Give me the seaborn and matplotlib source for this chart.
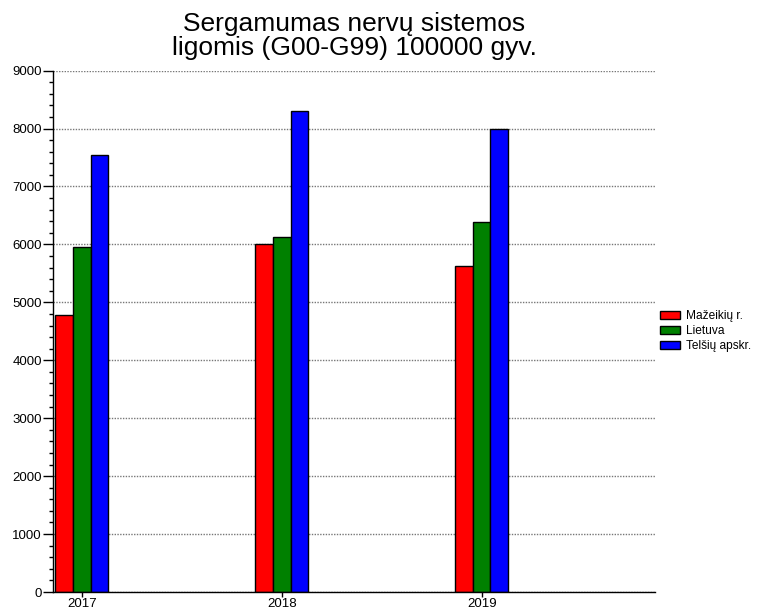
import numpy as np
import pandas as pd
import seaborn as sns
import matplotlib
matplotlib.use("Agg")
import matplotlib.pyplot as plt
from matplotlib.ticker import MultipleLocator

# values
years = ["2017", "2018", "2019"]
regions = ["Mažeikių r.", "Lietuva", "Telšių apskr."]
mazeikiai = [4780, 6000, 5630]
lietuva = [5960, 6130, 6380]
telsiai = [7550, 8310, 8000]
colors = ["#ff0000", "#008000", "#0000ff"]

df = pd.DataFrame({
    "year": years * 3,
    "region": [r for r in regions for _ in years],
    "value": mazeikiai + lietuva + telsiai,
})

sns.set_theme(style="white")
plt.rcParams["font.family"] = ["Liberation Sans", "DejaVu Sans"]
plt.rcParams["text.color"] = "black"
plt.rcParams["xtick.color"] = "black"
plt.rcParams["ytick.color"] = "black"

fig = plt.figure(figsize=(7.63, 6.14), dpi=100)
ax = fig.add_axes([0.0695, 0.0358, 0.789, 0.8492])

sns.barplot(data=df, x="year", y="value", hue="region", hue_order=regions,
            palette=colors, width=0.265, edgecolor="black", linewidth=1,
            saturation=1, gap=0, ax=ax)

ax.set_xlim(-0.1435, 2.867)
ax.set_ylim(0, 9000)
ax.yaxis.set_major_locator(MultipleLocator(1000))
ax.yaxis.set_minor_locator(MultipleLocator(200))
ax.yaxis.grid(True, which="major", linestyle=(0, (1, 1)), color="#777777", linewidth=1)
ax.set_axisbelow(True)

ax.tick_params(axis="y", which="major", direction="out", length=7, width=1,
               color="black", labelcolor="black", labelsize=9.5, pad=1, left=True)
ax.tick_params(axis="y", which="minor", direction="out", length=3, width=1,
               color="black", left=True)
ax.tick_params(axis="x", direction="out", length=3.5, width=1, color="black",
               labelcolor="black", labelsize=9.5, pad=1, bottom=True)

for s in ["top", "right"]:
    ax.spines[s].set_visible(False)
for s in ["left", "bottom"]:
    ax.spines[s].set_color("black")
    ax.spines[s].set_linewidth(1)

ax.set_xlabel("")
ax.set_ylabel("")

handles, labels = ax.get_legend_handles_labels()
leg = ax.legend(handles, labels, loc="center left", bbox_to_anchor=(1.0, 0.5),
                frameon=False, fontsize=8.6, handlelength=1.7, handleheight=0.6,
                handletextpad=0.5, labelspacing=0.25, borderaxespad=0, borderpad=0.4)
for t in leg.get_texts():
    t.set_color("black")

ax.set_title("Sergamumas nervų sistemos\nligomis (G00-G99) 100000 gyv.",
             fontsize=19, pad=11, linespacing=1.0, color="black")

fig.savefig("out.png", dpi=100)
